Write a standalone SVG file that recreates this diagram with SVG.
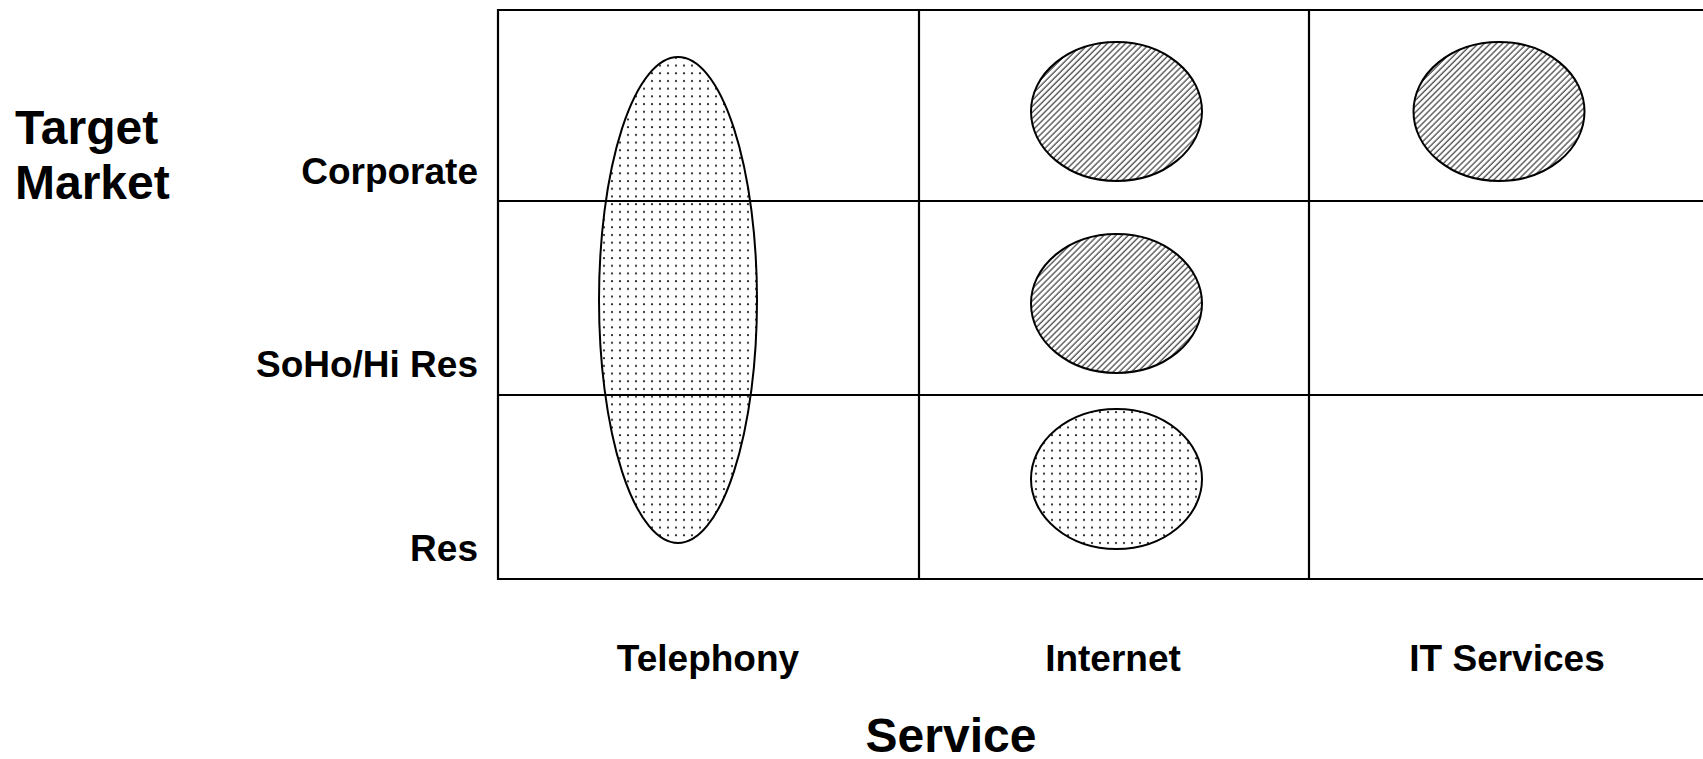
<svg xmlns="http://www.w3.org/2000/svg" width="1703" height="759" viewBox="0 0 1703 759">
<style>
text{font-family:"Liberation Sans",Arial,sans-serif;font-weight:bold;fill:#000}
.ax{font-size:48px}
.rl{font-size:37px;text-anchor:end}
.cl{font-size:37px;text-anchor:middle}
.grid line{stroke:#000;stroke-width:2.2}
.hatch{fill:url(#hatch);stroke:#000;stroke-width:2}
.dots{fill:url(#dots);stroke:#000;stroke-width:2}
</style>
<defs>
<pattern id="hatch" width="4.3" height="10" patternUnits="userSpaceOnUse" patternTransform="rotate(45)">
<rect width="4.3" height="10" fill="#fff"/>
<line x1="1" y1="0" x2="1" y2="10" stroke="#4a4a4a" stroke-width="1.3"/>
</pattern>
<pattern id="dots" width="8" height="7.7" patternUnits="userSpaceOnUse">
<rect width="8" height="7.7" fill="#fff"/>
<circle cx="4" cy="4" r="1.1" fill="#222"/>
</pattern>
</defs>
<rect width="1703" height="759" fill="#fff"/>
<g id="telephony-all"><ellipse class="dots" cx="678" cy="300" rx="79" ry="243"/></g>
<g id="internet-corporate"><ellipse class="hatch" cx="1116.5" cy="111.5" rx="85.5" ry="69.5"/></g>
<g id="internet-soho"><ellipse class="hatch" cx="1116.5" cy="303.5" rx="85.5" ry="69.5"/></g>
<g id="internet-res"><ellipse class="dots" cx="1116.5" cy="479" rx="85.5" ry="70"/></g>
<g id="it-corporate"><ellipse class="hatch" cx="1499" cy="111.5" rx="85.5" ry="69.5"/></g>
<g id="connectors" class="grid">
<line x1="497" y1="10" x2="1703" y2="10"/>
<line x1="497" y1="201" x2="1703" y2="201"/>
<line x1="497" y1="395" x2="1703" y2="395"/>
<line x1="497" y1="579" x2="1703" y2="579"/>
<line x1="498" y1="9" x2="498" y2="580"/>
<line x1="919" y1="10" x2="919" y2="579"/>
<line x1="1309" y1="10" x2="1309" y2="579"/>
</g>
<g id="labels">
<text class="ax" x="15" y="144">Target</text>
<text class="ax" x="15" y="199">Market</text>
<text class="rl" x="478" y="184">Corporate</text>
<text class="rl" x="478" y="377">SoHo/Hi Res</text>
<text class="rl" x="478" y="561">Res</text>
<text class="cl" x="708" y="671">Telephony</text>
<text class="cl" x="1113" y="671">Internet</text>
<text class="cl" x="1507" y="671">IT Services</text>
<text class="ax" x="951" y="752" text-anchor="middle">Service</text>
</g>
</svg>
